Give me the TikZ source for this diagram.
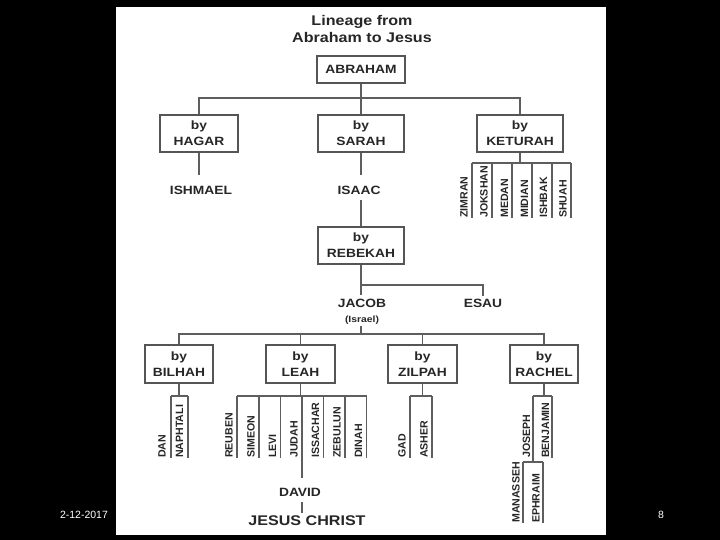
\documentclass[tikz,border=0pt]{standalone}
\usepackage{fontspec}
\setmainfont{Liberation Sans}
\newfontfamily\wf[FakeStretch=1.15]{Liberation Sans}
\definecolor{ink}{HTML}{262626}
\definecolor{ln}{HTML}{5E5E5E}
\definecolor{bx}{HTML}{555555}
\begin{document}
\begin{tikzpicture}[x=1pt,y=-1pt,
  box/.style={draw=bx, line width=1.7pt, fill=white, minimum height=37pt, inner sep=0pt, align=center,
    font=\wf\bfseries\fontsize{12}{16}\selectfont, text=ink},
  lbl/.style={inner sep=0pt, anchor=base, font=\wf\bfseries\fontsize{12}{14}\selectfont, text=ink},
  ttl/.style={lbl, font=\wf\bfseries\fontsize{14}{17}\selectfont},
  son/.style={inner sep=0pt, rotate=90, anchor=west, font=\bfseries\fontsize{10.6}{12}\selectfont, text=ink},
  link/.style={draw=ln, line width=1.3pt},
  thin/.style={draw=ln, line width=1.1pt},
  foot/.style={text=white, inner sep=0pt, font=\fontsize{10.5}{12}\selectfont}]
% background
\fill[black] (0,0) rectangle (720,540);
\fill[white] (116,7) rectangle (606,535);
% title
\node[ttl] (t1) at (362,26) {Lineage from};
\node[ttl] (t2) at (362,43) {Abraham to Jesus};
% boxes
\node[box, minimum width=88pt, minimum height=27pt] (abraham) at (361,69.5) {ABRAHAM};
\node[box, minimum width=78pt] (hagar) at (199,133.5) {by\\HAGAR};
\node[box, minimum width=86pt] (sarah) at (361,133.5) {by\\SARAH};
\node[box, minimum width=86pt] (keturah) at (520,133.5) {by\\KETURAH};
\node[box, minimum width=86pt] (rebekah) at (361,245.5) {by\\REBEKAH};
\node[box, minimum width=68pt, minimum height=38pt] (bilhah) at (179,364) {by\\BILHAH};
\node[box, minimum width=69pt, minimum height=38pt] (leah) at (300.5,364) {by\\LEAH};
\node[box, minimum width=69pt, minimum height=38pt] (zilpah) at (422.5,364) {by\\ZILPAH};
\node[box, minimum width=68pt, minimum height=38pt] (rachel) at (544,364) {by\\RACHEL};
% labels
\node[lbl] (ishmael) at (201,195) {ISHMAEL};
\node[lbl] (isaac) at (359,195) {ISAAC};
\node[lbl] (jacob) at (362,307.5) {JACOB};
\node[lbl] (esau) at (483,307.5) {ESAU};
\node[lbl, font=\wf\bfseries\fontsize{9}{11}\selectfont] (israel) at (362,322) {(Israel)};
\node[lbl] (david) at (300,496) {DAVID};
\node[lbl, font=\wf\bfseries\fontsize{14}{17}\selectfont] (jesus) at (307,525) {JESUS CHRIST};
% Abraham tree
\coordinate (ab) at (361,98);
\draw[link] (abraham.south) -- (ab);
\draw[link] (hagar.north) |- (ab) -| (keturah.north);
\draw[link] (sarah.north) -- (ab);
\draw[link, shorten >=11pt] (hagar.south) -- (hagar.south |- ishmael.north);
\draw[link, shorten >=11pt] (sarah.south) -- (sarah.south |- isaac.north);
\draw[link, shorten <=5pt] (rebekah.north |- isaac.south) -- (rebekah.north);
% Keturah sons
\coordinate (k1) at (472,163);
\coordinate (k2) at (492,163);
\coordinate (k3) at (512,163);
\coordinate (k4) at (532,163);
\coordinate (k5) at (552,163);
\coordinate (k6) at (571,163);
\node[son] (zimran) at (464,218) {ZIMRAN};
\node[son] (jokshan) at (484,218) {JOKSHAN};
\node[son] (medan) at (504.5,218) {MEDAN};
\node[son] (midian) at (524.5,218) {MIDIAN};
\node[son] (ishbak) at (543.5,218) {ISHBAK};
\node[son] (shuah) at (563,218) {SHUAH};
\draw[link] (keturah.south) -- (keturah.south |- k1);
\draw[thin] (k1) -- (k6);
\draw[thin] (k1) -- (k1 |- zimran.west);
\draw[thin] (k2) -- (k2 |- jokshan.west);
\draw[thin] (k3) -- (k3 |- medan.west);
\draw[thin] (k4) -- (k4 |- midian.west);
\draw[thin] (k5) -- (k5 |- ishbak.west);
\draw[thin] (k6) -- (k6 |- shuah.west);
% Rebekah
\coordinate (rj) at (361,285);
\draw[link, shorten >=4pt] (rebekah.south) -- (rebekah.south |- jacob.north);
\draw[link, shorten >=3pt] (rj) -| (esau.north);
% Jacob's wives
\coordinate (jb) at (361,334);
\draw[link, shorten <=2pt] (jb |- israel.south) -- (jb);
\draw[link] (bilhah.north) |- (jb) -| (rachel.north);
\draw[link] (leah.north) -- (leah.north |- jb);
\draw[link] (zilpah.north) -- (zilpah.north |- jb);
% Bilhah sons
\coordinate (b1) at (171,396);
\coordinate (b2) at (188,396);
\node[son] (dan) at (162,458) {DAN};
\node[son] (naphtali) at (179.5,458) {NAPHTALI};
\draw[link] (bilhah.south) -- (bilhah.south |- b1);
\draw[thin] (b1) -- (b2);
\draw[thin] (b1) -- (b1 |- dan.west);
\draw[thin] (b2) -- (b2 |- naphtali.west);
% Leah sons
\coordinate (l1) at (237,396);
\coordinate (l2) at (259,396);
\coordinate (l3) at (280.5,396);
\coordinate (l4) at (302,396);
\coordinate (l5) at (323.5,396);
\coordinate (l6) at (345,396);
\coordinate (l7) at (366.5,396);
\node[son] (reuben) at (229,458) {REUBEN};
\node[son] (simeon) at (251,458) {SIMEON};
\node[son] (levi) at (272.5,458) {LEVI};
\node[son] (judah) at (294,458) {JUDAH};
\node[son] (issachar) at (315.5,458) {ISSACHAR};
\node[son] (zebulun) at (337,458) {ZEBULUN};
\node[son] (dinah) at (358.5,458) {DINAH};
\draw[link] (leah.south) -- (leah.south |- l1);
\draw[thin] (l1) -- (l7);
\draw[thin] (l1) -- (l1 |- reuben.west);
\draw[thin] (l2) -- (l2 |- simeon.west);
\draw[thin] (l3) -- (l3 |- levi.west);
\draw[thin, shorten >=10pt] (l4) -- (l4 |- david.north);
\draw[thin] (l5) -- (l5 |- issachar.west);
\draw[thin] (l6) -- (l6 |- zebulun.west);
\draw[thin] (l7) -- (l7 |- dinah.west);
\draw[thin, shorten <=6pt, shorten >=2pt] (l4 |- david.south) -- (l4 |- jesus.north);
% Zilpah sons
\coordinate (z1) at (410,396);
\coordinate (z2) at (432,396);
\node[son] (gad) at (402,458) {GAD};
\node[son] (asher) at (424,458) {ASHER};
\draw[link] (zilpah.south) -- (zilpah.south |- z1);
\draw[thin] (z1) -- (z2);
\draw[thin] (z1) -- (z1 |- gad.west);
\draw[thin] (z2) -- (z2 |- asher.west);
% Rachel sons
\coordinate (r1) at (533,396);
\coordinate (r2) at (552,396);
\coordinate (jo) at (533,462);
\coordinate (j1) at (523,462);
\coordinate (j2) at (543,462);
\node[son] (joseph) at (526.5,458) {JOSEPH};
\node[son] (benjamin) at (545.5,458) {BENJAMIN};
\node[son] (manasseh) at (516,523) {MANASSEH};
\node[son] (ephraim) at (536,523) {EPHRAIM};
\draw[link] (rachel.south) -- (rachel.south |- r1);
\draw[thin] (r1) -- (r2);
\draw[thin] (r1) -- (jo);
\draw[thin] (r2) -- (r2 |- benjamin.west);
\draw[thin] (j1) -- (j2);
\draw[thin] (j1) -- (j1 |- manasseh.west);
\draw[thin] (j2) -- (j2 |- ephraim.west);
% footer
\node[foot] (date) at (84,515) {2-12-2017};
\node[foot] (page) at (661,515) {8};
\end{tikzpicture}
\end{document}
